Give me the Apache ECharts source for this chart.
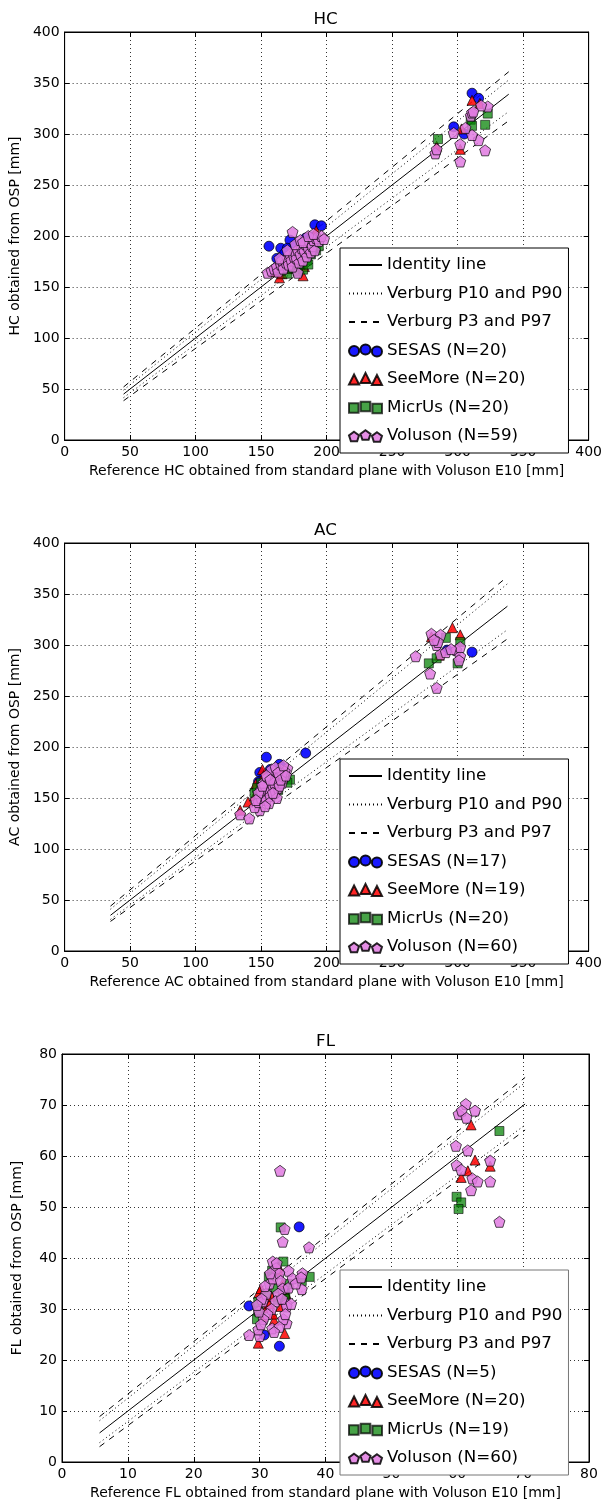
<!DOCTYPE html>
<html>
<head>
<meta charset="utf-8">
<script src="https://cdn.jsdelivr.net/npm/echarts@6/dist/echarts.min.js"></script>
<style>
html,body{margin:0;padding:0;background:#fff;}
#chart{width:605px;height:1502px;}
</style>
</head>
<body>
<div id="chart"></div>
<script>
// ---------------- DATA ----------------
const panelTitles = ['HC', 'AC', 'FL'];
const xAxisNames = [
  'Reference HC obtained from standard plane with Voluson E10 [mm]',
  'Reference AC obtained from standard plane with Voluson E10 [mm]',
  'Reference FL obtained from standard plane with Voluson E10 [mm]'
];
const yAxisNames = ['HC obtained from OSP [mm]', 'AC obtained from OSP [mm]', 'FL obtained from OSP [mm]'];
const axisMax = [400, 400, 80];
const axisInterval = [50, 50, 10];

const seriesNamesHC = ['SESAS (N=20)', 'SeeMore (N=20)', 'MicrUs (N=20)', 'Voluson (N=59)'];
const seriesNamesAC = ['SESAS (N=17)', 'SeeMore (N=19)', 'MicrUs (N=20)', 'Voluson (N=60)'];
const seriesNamesFL = ['SESAS (N=5)', 'SeeMore (N=20)', 'MicrUs (N=19)', 'Voluson (N=60)'];

// Reference lines (identity, Verburg percentiles)
const hcIdentity = [[45, 45], [339, 339]];
const hcP90 = [[45, 49], [339, 353]];
const hcP10 = [[45, 41.5], [339, 322]];
const hcP97 = [[45, 52], [339, 361]];
const hcP3 = [[45, 38.5], [339, 313]];

const acIdentity = [[35, 35], [338, 338]];
const acP90 = [[35, 41], [338, 360]];
const acP10 = [[35, 31], [338, 315]];
const acP97 = [[35, 44], [338, 367]];
const acP3 = [[35, 29], [338, 306]];

const flIdentity = [[5.7, 5.7], [70.3, 70.2]];
const flP90 = [[5.7, 8.1], [70.3, 74.4]];
const flP10 = [[5.7, 3.8], [70.3, 66.1]];
const flP97 = [[5.7, 8.9], [70.3, 75.4]];
const flP3 = [[5.7, 3.0], [70.3, 65.1]];

// HC scatter
const hcSesas = [[311,340],[316,335],[297,307],[305,300],[156,190],[191,211],[196,210],[184,198],[172,196],[165,188],
  [170,188],[176,190],[178,186],[180,192],[168,183],[174,180],[186,195],[162,178],[183,188],[189,199]];
const hcSeeMore = [[311,333],[317,330],[284,288],[302,285],[303,305],[192,205],[164,159],[182,161],[175,172],[170,168],
  [178,180],[185,190],[160,165],[172,175],[180,178],[188,195],[168,172],[176,185],[183,170],[166,163]];
const hcMicrUs = [[285,295],[310,314],[311,308],[323,320],[321,309],[182,167],[192,186],[178,165],[185,176],[170,163],
  [175,170],[180,172],[188,182],[172,168],[190,188],[165,166],[183,180],[176,175],[186,172],[194,190]];
const hcVoluson = [[323,327],[321,284],[302,273],[316,294],[311,299],[283,281],[297,301],[310,318],[311,321],[302,290],
  [318,328],[306,306],[312,322],[284,285],[174,204],[155,164],[178,164],[168,170],[158,166],[160,168],
  [162,170],[163,165],[165,172],[166,176],[167,168],[169,174],[170,178],[171,172],[172,182],[173,176],
  [174,170],[175,180],[176,184],[177,178],[178,186],[179,174],[180,182],[181,188],[182,176],[183,185],
  [184,192],[185,180],[186,188],[187,194],[188,184],[189,190],[190,196],[191,186],[192,198],[194,195],
  [196,200],[170,186],[176,192],[180,196],[164,178],[182,194],[186,200],[190,202],[198,197]];

// AC scatter
const acSesas = [[292,295],[311,293],[154,190],[184,194],[164,183],[149,175],[166,180],[152,170],[158,176],[160,172],
  [155,165],[162,168],[150,160],[157,178],[163,175],[148,166],[156,170]];
const acSeeMore = [[280,308],[296,317],[302,310],[286,290],[151,178],[146,164],[140,146],[134,138],[148,160],[152,172],
  [155,168],[158,165],[150,155],[156,160],[160,170],[145,152],[153,158],[162,163],[149,150]];
const acMicrUs = [[278,282],[284,287],[291,307],[302,303],[300,282],[172,168],[145,155],[148,150],[152,158],[155,162],
  [158,168],[160,160],[162,165],[165,170],[168,172],[150,165],[157,152],[163,158],[170,165],[147,160]];
const acVoluson = [[268,289],[280,311],[287,310],[284,300],[285,303],[279,272],[284,258],[299,295],[302,289],[301,285],
  [302,298],[287,291],[291,293],[295,296],[282,305],[134,134],[141,130],[149,138],[145,141],[170,179],
  [148,146],[150,150],[152,155],[153,160],[154,148],[155,165],[156,158],[157,152],[158,170],[159,162],
  [160,175],[161,156],[162,168],[163,160],[164,172],[165,178],[166,165],[167,170],[168,176],[150,158],
  [152,165],[155,170],[158,178],[160,165],[162,150],[164,162],[166,174],[148,155],[151,162],[154,172],
  [157,168],[159,155],[161,180],[163,175],[165,168],[167,182],[156,145],[146,148],[153,142],[169,172]];

// FL scatter
const flSesas = [[28.4,30.6],[30.7,24.9],[33.0,22.7],[33.7,33.4],[36.0,46.1]];
const flSeeMore = [[62.1,66.1],[62.7,59.2],[61.6,57.1],[60.6,55.8],[65.0,58.0],[29.8,23.3],[33.8,25.2],[29.9,33.2],[30.2,34.0],[31.0,30.2],
  [32.8,37.6],[32.9,38.2],[32.2,27.8],[31.5,31.0],[33.2,30.5],[30.5,28.5],[32.0,29.0],[34.0,33.0],[31.8,32.5],[33.5,35.0]];
const flMicrUs = [[66.4,64.9],[59.9,52.0],[60.6,50.9],[60.2,49.6],[33.2,46.0],[33.6,39.3],[37.6,36.3],[36.4,35.5],[34.4,34.9],[33.9,33.0],
  [32.8,31.8],[29.8,31.4],[29.8,29.5],[29.6,28.0],[31.4,36.3],[31.9,37.5],[33.8,32.0],[32.5,34.0],[31.0,33.0]];
const flVoluson = [[61.3,70.2],[60.2,68.2],[60.7,68.9],[61.4,67.5],[62.7,68.9],[59.8,62.0],[61.6,61.1],[59.9,58.2],[60.6,57.3],[62.3,55.6],
  [63.1,55.0],[62.1,53.3],[65.0,59.1],[65.0,55.0],[66.4,47.1],[33.1,57.1],[33.8,45.7],[33.5,43.2],[37.5,42.1],[34.1,27.2],
  [33.6,28.0],[31.9,26.2],[30.0,24.7],[28.4,24.9],[29.8,26.0],[34.1,31.0],[32.0,39.3],[36.4,33.9],[36.5,37.0],[34.4,37.5],
  [34.1,30.5],[30.5,31.5],[31.0,33.0],[31.5,35.0],[32.0,36.0],[32.5,38.0],[33.0,37.0],[33.2,35.5],[33.5,34.0],[32.8,33.0],
  [32.4,31.5],[31.8,30.0],[31.2,29.0],[30.6,28.0],[30.2,27.0],[29.9,29.5],[30.3,32.0],[30.8,34.5],[31.6,37.0],[32.6,39.0],
  [33.4,32.0],[34.4,34.2],[35.0,36.0],[35.5,35.0],[34.8,31.0],[33.9,29.0],[33.0,26.5],[32.2,25.5],[36.3,36.2],[29.6,30.8]];

// ---------------- STYLE / LAYOUT ----------------
const FONT = 'DejaVu Sans';
const gridTops = [32, 543, 1054];
const GRID_LEFT = 62, GRID_W = 527, GRID_H = 408;
const colors = ['#0000ff', '#ff0000', '#008000', '#e07ae0'];
const opacities = [0.9, 0.85, 0.72, 0.85];
const pentagonPath = 'path://M0,-1L0.951,-0.309L0.588,0.809L-0.588,0.809L-0.951,-0.309Z';
const symbols = ['circle', 'triangle', 'rect', pentagonPath];
const symSizes = [10, 10, 9, 11];

// legend icons: three markers with matplotlib-like vertical offsets
const offs = [8.5, 7, 9];
const cxs = [5.2, 16.5, 27.8];
function iconCircles() {
  return 'path://' + cxs.map((cx, i) => {
    const cy = offs[i];
    return `M${cx - 5},${cy}A5,5,0,1,1,${cx + 5},${cy}A5,5,0,1,1,${cx - 5},${cy}Z`;
  }).join(' ');
}
function iconTriangles() {
  return 'path://' + cxs.map((cx, i) => {
    const cy = offs[i];
    return `M${cx},${cy - 5}L${cx + 5},${cy + 5}L${cx - 5},${cy + 5}Z`;
  }).join(' ');
}
function iconSquares() {
  return 'path://' + cxs.map((cx, i) => {
    const cy = offs[i];
    return `M${cx - 4.6},${cy - 4.6}L${cx + 4.6},${cy - 4.6}L${cx + 4.6},${cy + 4.6}L${cx - 4.6},${cy + 4.6}Z`;
  }).join(' ');
}
function iconPentagons() {
  const r = 5.2;
  return 'path://' + cxs.map((cx, i) => {
    const cy = offs[i];
    const pts = [];
    for (let k = 0; k < 5; k++) {
      const a = -Math.PI / 2 + k * 2 * Math.PI / 5;
      pts.push([cx + r * Math.cos(a), cy + r * Math.sin(a)]);
    }
    return 'M' + pts.map(p => p[0].toFixed(2) + ',' + p[1].toFixed(2)).join('L') + 'Z';
  }).join(' ');
}
const legendIcons = [iconCircles(), iconTriangles(), iconSquares(), iconPentagons()];

const panels = [
  { names: seriesNamesHC, pts: [hcSesas, hcSeeMore, hcMicrUs, hcVoluson],
    id: hcIdentity, p90: hcP90, p10: hcP10, p97: hcP97, p3: hcP3 },
  { names: seriesNamesAC, pts: [acSesas, acSeeMore, acMicrUs, acVoluson],
    id: acIdentity, p90: acP90, p10: acP10, p97: acP97, p3: acP3 },
  { names: seriesNamesFL, pts: [flSesas, flSeeMore, flMicrUs, flVoluson],
    id: flIdentity, p90: flP90, p10: flP10, p97: flP97, p3: flP3 }
];

const grid = [], xAxis = [], yAxis = [], series = [], title = [], legend = [];
const lineNames = ['Identity line', 'Verburg P10 and P90', 'Verburg P3 and P97'];

panels.forEach((p, i) => {
  grid.push({ left: GRID_LEFT, top: gridTops[i], width: GRID_W, height: GRID_H,
    show: true, borderColor: '#000', borderWidth: 1, backgroundColor: '#fff' });
  title.push({ text: panelTitles[i], left: GRID_LEFT + GRID_W / 2, textAlign: 'center', top: gridTops[i] - 21,
    padding: 0, textStyle: { fontFamily: FONT, fontSize: 16.7, fontWeight: 'normal', color: '#000' } });
  const axCommon = {
    gridIndex: i, type: 'value', min: 0, max: axisMax[i], interval: axisInterval[i]
  };
  xAxis.push(Object.assign({}, axCommon, {
    position: 'bottom',
    name: xAxisNames[i], nameLocation: 'middle', nameGap: 24,
    nameTextStyle: { fontFamily: FONT, fontSize: 14, color: '#000' },
    axisLine: { show: true, onZero: false, lineStyle: { color: '#000', width: 1 } },
    axisTick: { show: true, inside: true, length: 5, lineStyle: { color: '#000' } },
    axisLabel: { fontFamily: FONT, fontSize: 14, color: '#000', margin: 5 },
    splitLine: { show: true, lineStyle: { color: '#333', width: 1, type: [1, 3] } }
  }));
  xAxis.push(Object.assign({}, axCommon, {
    position: 'top',
    axisLine: { show: true, onZero: false, lineStyle: { color: '#000', width: 1 } },
    axisTick: { show: true, inside: true, length: 5, lineStyle: { color: '#000' } },
    axisLabel: { show: false }, splitLine: { show: false }
  }));
  yAxis.push(Object.assign({}, axCommon, {
    position: 'left',
    name: yAxisNames[i], nameLocation: 'middle', nameGap: 38, nameRotate: 90,
    nameTextStyle: { fontFamily: FONT, fontSize: 14, color: '#000' },
    axisLine: { show: true, onZero: false, lineStyle: { color: '#000', width: 1 } },
    axisTick: { show: true, inside: true, length: 5, lineStyle: { color: '#000' } },
    axisLabel: { fontFamily: FONT, fontSize: 14, color: '#000', margin: 5 },
    splitLine: { show: true, lineStyle: { color: '#333', width: 1, type: [1, 3] } }
  }));
  yAxis.push(Object.assign({}, axCommon, {
    position: 'right',
    axisLine: { show: true, onZero: false, lineStyle: { color: '#000', width: 1 } },
    axisTick: { show: true, inside: true, length: 5, lineStyle: { color: '#000' } },
    axisLabel: { show: false }, splitLine: { show: false }
  }));
  const xi = i * 2, yi = i * 2;
  const lineSeries = (name, data, type) => ({
    name, type: 'line', xAxisIndex: xi, yAxisIndex: yi, data, symbol: 'none', silent: true,
    lineStyle: { color: '#000', width: 1, type }, itemStyle: { color: '#000' }, z: 1, animation: false
  });
  series.push(lineSeries(lineNames[0], p.id, 'solid'));
  series.push(lineSeries(lineNames[1], p.p90, [1, 3]));
  series.push(lineSeries(lineNames[1], p.p10, [1, 3]));
  series.push(lineSeries(lineNames[2], p.p97, [6, 6]));
  series.push(lineSeries(lineNames[2], p.p3, [6, 6]));
  p.pts.forEach((pts, k) => {
    series.push({
      name: p.names[k], type: 'scatter', xAxisIndex: xi, yAxisIndex: yi, data: pts,
      symbol: symbols[k], symbolSize: symSizes[k], animation: false,
      itemStyle: { color: colors[k], borderColor: '#000', borderWidth: 0.8, opacity: opacities[k] }, z: 2 + k
    });
  });
  const hideSym = { opacity: 0 };
  legend.push({
    left: 340, top: gridTops[i] + 216, orient: 'vertical',
    backgroundColor: '#fff', borderColor: i === 2 ? '#777' : '#000', borderWidth: 1, borderRadius: 0,
    padding: [8.5, 6, 8.5, 8], itemWidth: 33, itemHeight: 14, itemGap: 11.5, itemTextGap: 15,
    selectedMode: false, z: 10,
    textStyle: { fontFamily: FONT, fontSize: 16.7, color: '#000' },
    data: [
      { name: lineNames[0], itemStyle: hideSym },
      { name: lineNames[1], itemStyle: hideSym },
      { name: lineNames[2], itemStyle: hideSym },
      ...p.names.map((n, k) => ({ name: n, icon: legendIcons[k] }))
    ]
  });
});

const chart = echarts.init(document.getElementById('chart'), null, { renderer: 'canvas' });
chart.setOption({ animation: false, backgroundColor: '#fff', grid, xAxis, yAxis, series, title, legend });
</script>
</body>
</html>
